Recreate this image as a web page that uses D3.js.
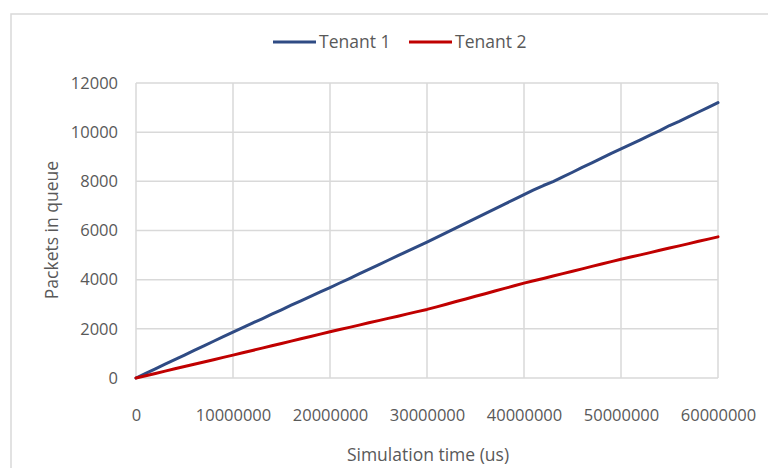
<!DOCTYPE html>
<html>
<head>
<meta charset="utf-8">
<script src="https://cdn.jsdelivr.net/npm/d3@7"></script>
<style>
  html, body { margin: 0; padding: 0; background: #fff; }
  svg { display: block; }
  text { font-family: "Open Sans", "Liberation Sans", sans-serif; fill: #595959; }
</style>
</head>
<body>
<svg id="chart" width="768" height="468"></svg>
<script>
// Simulation time, in millions of microseconds (one sample every 1M us)
const timeMillions = d3.range(0, 61);

// Packets waiting in each tenant's queue at those times
const tenant1 = [
  0, 190, 375, 560, 745, 930, 1120, 1305, 1495, 1680, 1870,
  2050, 2235, 2410, 2595, 2775, 2960, 3140, 3320, 3500, 3680,
  3865, 4045, 4235, 4420, 4600, 4790, 4975, 5160, 5340, 5530,
  5720, 5915, 6105, 6300, 6490, 6690, 6880, 7075, 7265, 7460,
  7650, 7830, 7990, 8180, 8370, 8570, 8750, 8940, 9140, 9320,
  9500, 9690, 9880, 10060, 10270, 10440, 10630, 10820, 11010, 11200
];
const tenant2 = [
  0, 90, 185, 280, 375, 465, 560, 650, 745, 840, 930,
  1025, 1120, 1215, 1310, 1405, 1500, 1595, 1690, 1785, 1880,
  1970, 2060, 2150, 2245, 2335, 2425, 2515, 2610, 2700, 2790,
  2895, 3000, 3110, 3215, 3325, 3430, 3540, 3645, 3750, 3860,
  3955, 4050, 4150, 4245, 4345, 4440, 4540, 4635, 4735, 4830,
  4920, 5010, 5100, 5195, 5285, 5375, 5465, 5560, 5650, 5740
];

const xTicks = [0, 10000000, 20000000, 30000000, 40000000, 50000000, 60000000];
const yTicks = [0, 2000, 4000, 6000, 8000, 10000, 12000];

const seriesNames = ["Tenant 1", "Tenant 2"];
const seriesColors = ["#2F4B84", "#C00000"];

const series = [tenant1, tenant2].map((vals, i) => ({
  name: seriesNames[i],
  color: seriesColors[i],
  points: vals.map((v, j) => ({ t: timeMillions[j] * 1e6, v }))
}));

const svg = d3.select("#chart");

// Outer chart frame
svg.append("rect")
  .attr("x", 11).attr("y", 14)
  .attr("width", 800).attr("height", 500)
  .attr("fill", "none").attr("stroke", "#d9d9d9").attr("stroke-width", 1.5);

const x = d3.scaleLinear().domain([0, 60000000]).range([136, 718]);
const y = d3.scaleLinear().domain([0, 12000]).range([378, 83]);

// Gridlines
const grid = svg.append("g");
grid.selectAll("line.v").data(xTicks).join("line")
  .attr("x1", d => x(d)).attr("x2", d => x(d))
  .attr("y1", y(0)).attr("y2", y(12000))
  .attr("stroke", "#d9d9d9").attr("stroke-width", 1.5);
grid.selectAll("line.h").data(yTicks).join("line")
  .attr("x1", x(0)).attr("x2", x(60000000))
  .attr("y1", d => y(d)).attr("y2", d => y(d))
  .attr("stroke", "#d9d9d9").attr("stroke-width", 1.5);

// Axes (labels only; the lines come from the grid)
const xAxis = svg.append("g")
  .attr("transform", `translate(0,${y(0)})`)
  .call(d3.axisBottom(x).tickValues(xTicks).tickFormat(d3.format("d")).tickSize(0).tickPadding(31));
xAxis.select(".domain").remove();
xAxis.selectAll("text").attr("font-size", 16.5).attr("font-family", null).attr("fill", "#595959");

const yAxis = svg.append("g")
  .attr("transform", `translate(${x(0)},0)`)
  .call(d3.axisLeft(y).tickValues(yTicks).tickFormat(d3.format("d")).tickSize(0).tickPadding(18));
yAxis.select(".domain").remove();
yAxis.selectAll("text").attr("font-size", 16.5).attr("font-family", null).attr("fill", "#595959");

// Series lines
const line = d3.line().x(d => x(d.t)).y(d => y(d.v));
svg.append("g").selectAll("path").data(series).join("path")
  .attr("d", d => line(d.points))
  .attr("fill", "none")
  .attr("stroke", d => d.color)
  .attr("stroke-width", 3)
  .attr("stroke-linejoin", "round")
  .attr("stroke-linecap", "round");

// Axis titles
svg.append("text")
  .attr("x", 428).attr("y", 461)
  .attr("text-anchor", "middle")
  .attr("font-size", 17.5)
  .text("Simulation time (us)");

svg.append("text")
  .attr("transform", "translate(58,230) rotate(-90)")
  .attr("text-anchor", "middle")
  .attr("font-size", 17.5)
  .text("Packets in queue");

// Legend
const legendX = [273, 409];
const legend = svg.append("g").selectAll("g").data(series).join("g")
  .attr("transform", (d, i) => `translate(${legendX[i]},42)`);
legend.append("line")
  .attr("x1", 0).attr("x2", 43)
  .attr("stroke", d => d.color).attr("stroke-width", 3);
legend.append("text")
  .attr("x", 46).attr("y", 6)
  .attr("font-size", 17.5)
  .text(d => d.name);
</script>
</body>
</html>
